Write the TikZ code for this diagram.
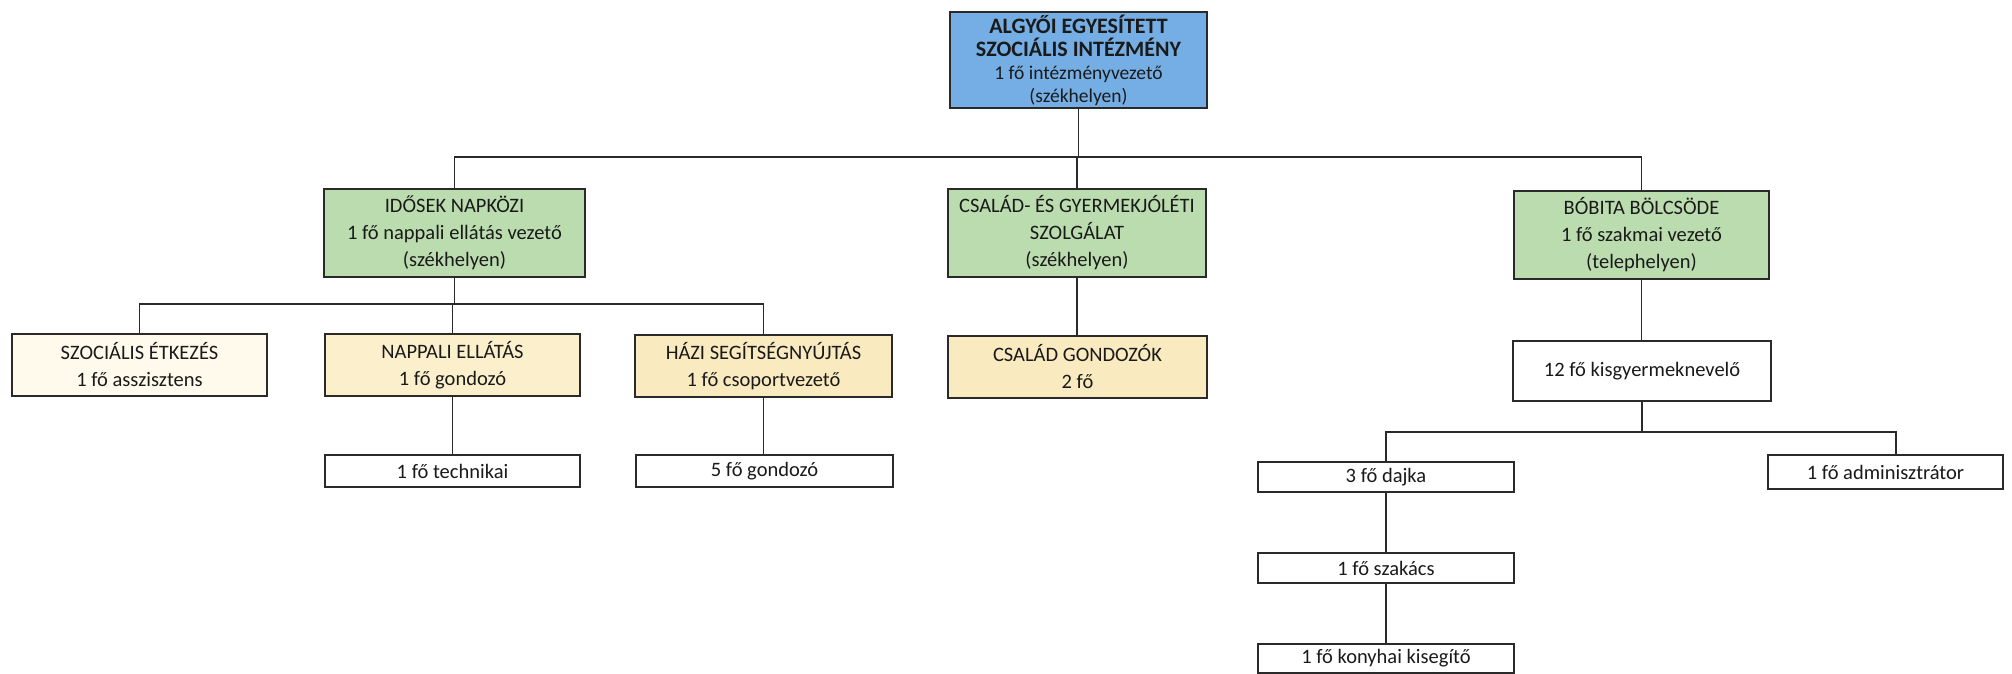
\documentclass[tikz,border=0pt]{standalone}
\usepackage{fontspec}
\setmainfont{Carlito}
\definecolor{topblue}{HTML}{74AEE5}
\definecolor{lgreen}{HTML}{BBDCAF}
\definecolor{cream}{HTML}{FFFAEC}
\definecolor{lyellow}{HTML}{FCF0CC}
\definecolor{hyellow}{HTML}{F9EABF}
\definecolor{lineclr}{HTML}{2A2A2A}
\definecolor{txtclr}{HTML}{1A1A1A}
\newcommand\tb[1]{{\fontsize{22}{23}\selectfont\bfseries #1}}
\begin{document}
\begin{tikzpicture}[x=1pt,y=-1pt,
  box/.style={draw=lineclr, line width=1.7pt, inner sep=0pt, align=center,
    text=txtclr, font=\fontsize{20.5}{27}\selectfont},
  conn/.style={draw=lineclr, line width=1.4pt}]
\fill[white] (0,0) rectangle (2012,674);
\useasboundingbox (0,0) rectangle (2012,674);
% top
\node[box, fill=topblue, minimum width=257pt, minimum height=96pt,
  font=\fontsize{19.5}{23}\selectfont] (top) at (1078.5,60)
  {\tb{ALGYŐI EGYESÍTETT}\\\tb{SZOCIÁLIS INTÉZMÉNY}\\1 fő intézményvezető\\(székhelyen)};
% level 2
\node[box, fill=lgreen, minimum width=261pt, minimum height=88pt] (ido) at (454.5,233)
  {IDŐSEK NAPKÖZI\\1 fő nappali ellátás vezető\\(székhelyen)};
\node[box, fill=lgreen, minimum width=258pt, minimum height=88pt] (csal) at (1077,233)
  {CSALÁD- ÉS GYERMEKJÓLÉTI\\SZOLGÁLAT\\(székhelyen)};
\node[box, fill=lgreen, minimum width=255pt, minimum height=88pt] (bob) at (1641.5,235)
  {BÓBITA BÖLCSÖDE\\1 fő szakmai vezető\\(telephelyen)};
% level 3
\node[box, fill=cream, minimum width=255pt, minimum height=62pt] (szoc) at (139.5,365)
  {SZOCIÁLIS ÉTKEZÉS\\1 fő asszisztens};
\node[box, fill=lyellow, minimum width=255pt, minimum height=62pt] (napp) at (452.5,365)
  {NAPPALI ELLÁTÁS\\1 fő gondozó};
\node[box, fill=hyellow, minimum width=257pt, minimum height=62pt] (hazi) at (763.5,366)
  {HÁZI SEGÍTSÉGNYÚJTÁS\\1 fő csoportvezető};
\node[box, fill=hyellow, minimum width=259pt, minimum height=62pt] (csg) at (1077.5,367)
  {CSALÁD GONDOZÓK\\2 fő};
\node[box, fill=white, minimum width=258pt, minimum height=60pt] (kisgy) at (1642,371)
  {12 fő kisgyermeknevelő};
% level 4
\node[box, fill=white, minimum width=255pt, minimum height=32pt] (tech) at (452.5,471)
  {1 fő technikai};
\node[box, fill=white, minimum width=257pt, minimum height=32pt] (gond5) at (764.5,471)
  {5 fő gondozó};
\node[box, fill=white, minimum width=256pt, minimum height=30pt] (dajka) at (1386,477)
  {3 fő dajka};
\node[box, fill=white, minimum width=235pt, minimum height=34pt] (adm) at (1885.5,472)
  {1 fő adminisztrátor};
\node[box, fill=white, minimum width=256pt, minimum height=30pt] (szak) at (1386,568)
  {1 fő szakács};
\node[box, fill=white, minimum width=256pt, minimum height=29pt] (kony) at (1386,658.5)
  {1 fő konyhai kisegítő};
% connectors
\coordinate (mainbus) at (0,157);
\coordinate (bus2) at (0,304);
\coordinate (bus3r) at (1896,432);
\draw[conn] (top.south) -- (top.south |- mainbus);
\draw[conn] (ido.north) -- (ido.north |- mainbus) -- (bob.north |- mainbus) -- (bob.north);
\draw[conn] (csal.north) -- (csal.north |- mainbus);
\draw[conn] (ido.south) -- (ido.south |- bus2);
\draw[conn] (szoc.north) -- (szoc.north |- bus2) -- (hazi.north |- bus2) -- (hazi.north);
\draw[conn] (napp.north) -- (napp.north |- bus2);
\draw[conn] (csal.south) -- (csal.south |- csg.north);
\draw[conn] (bob.south) -- (bob.south |- kisgy.north);
\draw[conn] (napp.south) -- (napp.south |- tech.north);
\draw[conn] (hazi.south) -- (hazi.south |- gond5.north);
\draw[conn] (kisgy.south) -- (kisgy.south |- bus3r);
\draw[conn] (dajka.north) -- (dajka.north |- bus3r) -- (bus3r) -- (bus3r |- adm.north);
\draw[conn] (dajka.south) -- (dajka.south |- szak.north);
\draw[conn] (szak.south) -- (szak.south |- kony.north);
\end{tikzpicture}
\end{document}
